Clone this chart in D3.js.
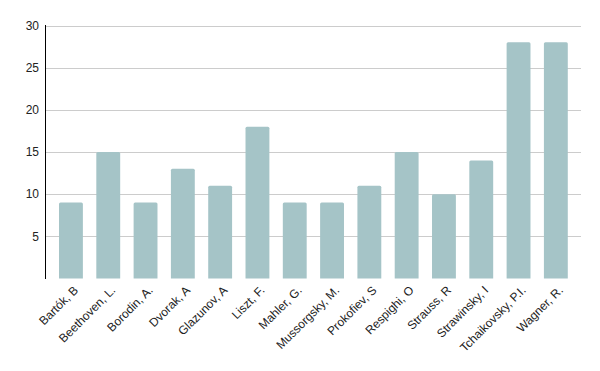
<!DOCTYPE html>
<html>
<head>
<meta charset="utf-8">
<script src="https://cdn.jsdelivr.net/npm/d3@7"></script>
<style>
  body { margin: 0; background: #fff; }
  text { font-family: Arial, "Liberation Sans", sans-serif; font-size: 12px; fill: #222; }
</style>
</head>
<body>
<div id="chart"></div>
<script>
// data
var composers = ["Bartók, B", "Beethoven, L.", "Borodin, A.", "Dvorak, A", "Glazunov, A",
  "Liszt, F.", "Mahler, G.", "Mussorgsky, M.", "Prokofiev, S", "Respighi, O",
  "Strauss, R", "Strawinsky, I", "Tchaikovsky, P.I.", "Wagner, R."];
var counts = [9, 15, 9, 13, 11, 18, 9, 9, 11, 15, 10, 14, 28, 28];
var yTicks = [5, 10, 15, 20, 25, 30];

var width = 600, height = 371;
var barColor = "#a5c4c7";
var gridColor = "#cccccc";

var svg = d3.select("#chart").append("svg")
    .attr("width", width)
    .attr("height", height);

var x = d3.scaleBand()
    .domain(composers)
    .range([52.3, 574.5])
    .paddingInner(0.36)
    .paddingOuter(0.18);

var y = d3.scaleLinear()
    .domain([0, 30])
    .range([278.5, 25.5]);

// gridlines
svg.append("g")
  .selectAll("line")
  .data(yTicks)
  .enter().append("line")
    .attr("x1", 45).attr("x2", 581)
    .attr("y1", function(d) { return Math.round(y(d)) + 0.5; })
    .attr("y2", function(d) { return Math.round(y(d)) + 0.5; })
    .style("stroke", gridColor)
    .style("stroke-width", 1);

// y labels
svg.append("g")
  .selectAll("text")
  .data(yTicks)
  .enter().append("text")
    .attr("x", 39)
    .attr("y", function(d) { return y(d); })
    .attr("dy", "0.35em")
    .attr("text-anchor", "end")
    .text(function(d) { return d; });

// bars
svg.append("g")
  .selectAll("path")
  .data(composers)
  .enter().append("path")
    .attr("d", function(d, i) {
      var x0 = x(d), w = x.bandwidth(), y0 = y(counts[i]), yb = y(0), r = 1.5;
      return "M" + x0 + "," + yb +
        "V" + (y0 + r) +
        "Q" + x0 + "," + y0 + " " + (x0 + r) + "," + y0 +
        "H" + (x0 + w - r) +
        "Q" + (x0 + w) + "," + y0 + " " + (x0 + w) + "," + (y0 + r) +
        "V" + yb + "Z";
    })
    .style("fill", barColor);

// y axis line
svg.append("line")
    .attr("x1", 45.5).attr("x2", 45.5)
    .attr("y1", 25).attr("y2", 279)
    .style("stroke", "#000")
    .style("stroke-width", 1);

// x labels
svg.append("g")
  .selectAll("text")
  .data(composers)
  .enter().append("text")
    .attr("transform", function(d) {
      return "translate(" + (x(d) + x.bandwidth() / 2 + 5) + ",288) rotate(-45)";
    })
    .attr("text-anchor", "end")
    .attr("dy", "0.35em")
    .text(function(d) { return d; });
</script>
</body>
</html>
